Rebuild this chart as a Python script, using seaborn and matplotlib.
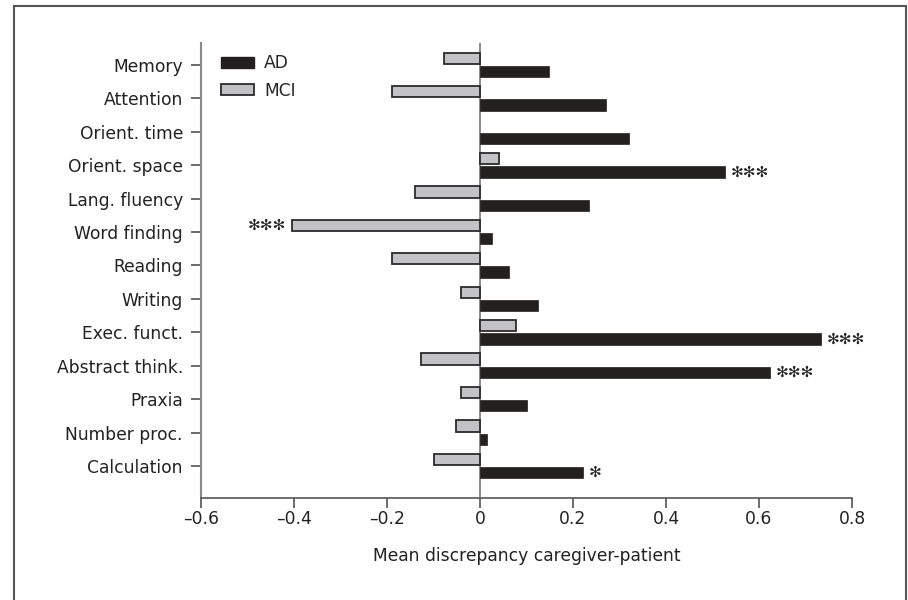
import pandas as pd
import matplotlib
matplotlib.use('Agg')
import matplotlib.pyplot as plt
from matplotlib.patches import Patch, Rectangle
import seaborn as sns

# domains, top to bottom
domains = ['Memory', 'Attention', 'Orient. time', 'Orient. space', 'Lang. fluency',
           'Word finding', 'Reading', 'Writing', 'Exec. funct.', 'Abstract think.',
           'Praxia', 'Number proc.', 'Calculation']

# mean discrepancy caregiver - patient
ad_values = [0.148, 0.270, 0.320, 0.527, 0.235, 0.026, 0.062, 0.125, 0.733, 0.624, 0.100, 0.014, 0.222]
mci_values = [-0.077, -0.190, 0.0, 0.040, -0.140, -0.405, -0.190, -0.040, 0.077, -0.127, -0.040, -0.052, -0.100]

# significance marks
ad_sig = ['', '', '', '***', '', '', '', '', '***', '***', '', '', '*']
mci_sig = ['', '', '', '', '', '***', '', '', '', '', '', '', '']

x_ticks = [-0.6, -0.4, -0.2, 0, 0.2, 0.4, 0.6, 0.8]
x_tick_labels = ['\u20130.6', '\u20130.4', '\u20130.2', '0', '0.2', '0.4', '0.6', '0.8']

AD_COLOR = '#231f20'
MCI_COLOR = '#c2c2c6'
EDGE = '#2b2b2b'

df = pd.DataFrame({
    'domain': domains * 2,
    'value': mci_values + ad_values,
    'group': ['MCI'] * len(domains) + ['AD'] * len(domains),
})

sns.set_style('white')
plt.rcParams['font.family'] = ['DejaVu Sans']

fig = plt.figure(figsize=(9.08, 6.0), dpi=100)
ax = fig.add_axes([201 / 908, 1 - 498 / 600, 651 / 908, 455 / 600])

sns.barplot(data=df, y='domain', x='value', hue='group', hue_order=['MCI', 'AD'],
            order=domains, palette={'MCI': MCI_COLOR, 'AD': AD_COLOR},
            orient='h', width=0.8, gap=0.15, legend=False, ax=ax)

mci_bars, ad_bars = ax.containers[0], ax.containers[1]
for p in mci_bars:
    p.set_edgecolor(EDGE)
    # no outline for empty bars
    p.set_linewidth(1.3 if abs(p.get_width()) > 1e-9 else 0)
for p in ad_bars:
    p.set_edgecolor(AD_COLOR)
    p.set_linewidth(0.5 if abs(p.get_width()) > 1e-9 else 0)

star_font = dict(fontsize=11, family=['DejaVu Sans'], color='#222222')
ax.bar_label(ad_bars, labels=ad_sig, padding=4, fmt='', **star_font)
ax.bar_label(mci_bars, labels=mci_sig, padding=4, fmt='', **star_font)
for t in ax.texts:
    t.set_text(t.get_text().replace('*', '\u273b'))

ax.axvline(0, color='#777777', lw=1.2, zorder=0)

ax.set_xlim(-0.6, 0.8)
ax.set_ylim(len(domains) - 1 + 0.96, -0.66)
ax.set_xticks(x_ticks)
ax.set_xticklabels(x_tick_labels)

ax.set_xlabel('Mean discrepancy caregiver-patient', fontsize=12.3, labelpad=13, color='#222222')
ax.set_ylabel('')

for s in ['top', 'right']:
    ax.spines[s].set_visible(False)
ax.spines['left'].set_color('#888888')
ax.spines['bottom'].set_color('#555555')
ax.spines['left'].set_linewidth(1.5)
ax.spines['bottom'].set_linewidth(1.2)

ax.tick_params(axis='y', length=7, width=1.1, color='#444444', pad=6,
               labelsize=12.3, labelcolor='#222222', left=True)
ax.tick_params(axis='x', length=7, width=1.1, color='#444444', pad=2,
               labelsize=12.3, labelcolor='#222222', bottom=True)

handles = [Patch(facecolor=AD_COLOR, edgecolor=AD_COLOR, label='AD'),
           Patch(facecolor=MCI_COLOR, edgecolor=EDGE, linewidth=1.3, label='MCI')]
ax.legend(handles=handles, loc='upper left', bbox_to_anchor=(0.031, 0.975),
          frameon=False, fontsize=12.3, borderpad=0, borderaxespad=0,
          handlelength=1.9, handleheight=0.65, handletextpad=0.6, labelspacing=0.55)

# outer frame
fig.add_artist(Rectangle((13.5 / 908, -0.02), (905.5 - 13.5) / 908, 0.02 + 1 - 5.5 / 600,
                         transform=fig.transFigure, fill=False,
                         edgecolor='#555555', linewidth=1.5))

fig.savefig('out.png', dpi=100)
plt.close(fig)
